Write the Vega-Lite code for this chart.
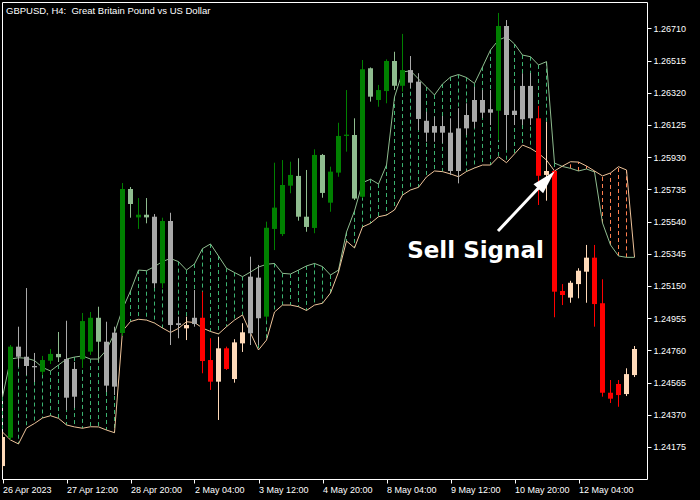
{
  "$schema": "https://vega.github.io/schema/vega-lite/v6.json",
  "width": 645,
  "height": 477,
  "autosize": {"type": "none"},
  "padding": {"left": 2, "top": 2, "right": 53, "bottom": 21},
  "background": "#000000",
  "config": {
    "view": {"stroke": null},
    "axis": {
      "grid": false,
      "title": null,
      "domainColor": "#ffffff",
      "domainWidth": 1,
      "tickColor": "#ffffff",
      "tickWidth": 1,
      "tickSize": 4,
      "labelColor": "#ffffff",
      "labelFont": "Liberation Sans",
      "labelFontSize": 9,
      "zindex": 1
    }
  },
  "title": {
    "text": "GBPUSD, H4:\u00a0 Great Britain Pound vs US Dollar",
    "anchor": "start",
    "frame": "group",
    "orient": "top",
    "offset": -13,
    "dx": 4,
    "color": "#ffffff",
    "font": "Liberation Sans",
    "fontSize": 9.5,
    "fontWeight": "normal"
  },
  "datasets": {
    "candles": [
      {"i": 0, "o": 1.24059, "h": 1.24265, "l": 1.24035, "c": 1.24235, "s": "bear-pullback"},
      {"i": 1, "o": 1.24231, "h": 1.24792, "l": 1.24217, "c": 1.24782, "s": "bull"},
      {"i": 2, "o": 1.24782, "h": 1.24903, "l": 1.24659, "c": 1.24721, "s": "neutral"},
      {"i": 3, "o": 1.24721, "h": 1.25137, "l": 1.24610, "c": 1.24665, "s": "neutral"},
      {"i": 4, "o": 1.24665, "h": 1.24744, "l": 1.24568, "c": 1.24657, "s": "neutral"},
      {"i": 5, "o": 1.24630, "h": 1.24726, "l": 1.24610, "c": 1.24701, "s": "bull"},
      {"i": 6, "o": 1.24697, "h": 1.24768, "l": 1.24677, "c": 1.24738, "s": "bull"},
      {"i": 7, "o": 1.24738, "h": 1.24871, "l": 1.24689, "c": 1.24718, "s": "bull-pullback"},
      {"i": 8, "o": 1.24707, "h": 1.24939, "l": 1.24398, "c": 1.24473, "s": "neutral"},
      {"i": 9, "o": 1.24479, "h": 1.24689, "l": 1.24411, "c": 1.24647, "s": "neutral"},
      {"i": 10, "o": 1.24706, "h": 1.24986, "l": 1.24653, "c": 1.24937, "s": "bull"},
      {"i": 11, "o": 1.24752, "h": 1.24992, "l": 1.24732, "c": 1.24957, "s": "bull"},
      {"i": 12, "o": 1.24957, "h": 1.25024, "l": 1.24691, "c": 1.24812, "s": "bull-pullback"},
      {"i": 13, "o": 1.24812, "h": 1.24933, "l": 1.24507, "c": 1.24546, "s": "neutral"},
      {"i": 14, "o": 1.24540, "h": 1.24903, "l": 1.24489, "c": 1.24867, "s": "neutral"},
      {"i": 15, "o": 1.24865, "h": 1.25773, "l": 1.24847, "c": 1.25737, "s": "bull"},
      {"i": 16, "o": 1.25737, "h": 1.25749, "l": 1.25563, "c": 1.25646, "s": "bull-pullback"},
      {"i": 17, "o": 1.25565, "h": 1.25682, "l": 1.25495, "c": 1.25581, "s": "bull"},
      {"i": 18, "o": 1.25581, "h": 1.25682, "l": 1.25529, "c": 1.25565, "s": "bull-pullback"},
      {"i": 19, "o": 1.25569, "h": 1.25585, "l": 1.25137, "c": 1.25166, "s": "neutral"},
      {"i": 20, "o": 1.25166, "h": 1.25563, "l": 1.25136, "c": 1.25543, "s": "bull"},
      {"i": 21, "o": 1.25543, "h": 1.25593, "l": 1.24792, "c": 1.24913, "s": "neutral"},
      {"i": 22, "o": 1.24913, "h": 1.24964, "l": 1.24833, "c": 1.24924, "s": "neutral"},
      {"i": 23, "o": 1.24893, "h": 1.24964, "l": 1.24822, "c": 1.24913, "s": "bear-pullback"},
      {"i": 24, "o": 1.24919, "h": 1.25125, "l": 1.24903, "c": 1.24957, "s": "neutral"},
      {"i": 25, "o": 1.24957, "h": 1.25115, "l": 1.24621, "c": 1.24695, "s": "bear"},
      {"i": 26, "o": 1.24701, "h": 1.24833, "l": 1.24520, "c": 1.24570, "s": "bear"},
      {"i": 27, "o": 1.24570, "h": 1.24842, "l": 1.24338, "c": 1.24772, "s": "bear-pullback"},
      {"i": 28, "o": 1.24772, "h": 1.24782, "l": 1.24641, "c": 1.24647, "s": "bear"},
      {"i": 29, "o": 1.24586, "h": 1.24827, "l": 1.24564, "c": 1.24808, "s": "bear-pullback"},
      {"i": 30, "o": 1.24802, "h": 1.24924, "l": 1.24750, "c": 1.24869, "s": "bear-pullback"},
      {"i": 31, "o": 1.24863, "h": 1.25327, "l": 1.24792, "c": 1.25206, "s": "neutral"},
      {"i": 32, "o": 1.25200, "h": 1.25277, "l": 1.24792, "c": 1.24954, "s": "neutral"},
      {"i": 33, "o": 1.24964, "h": 1.25539, "l": 1.24943, "c": 1.25502, "s": "bull"},
      {"i": 34, "o": 1.25495, "h": 1.25896, "l": 1.25367, "c": 1.25624, "s": "bull"},
      {"i": 35, "o": 1.25464, "h": 1.25912, "l": 1.25452, "c": 1.25761, "s": "bull"},
      {"i": 36, "o": 1.25757, "h": 1.25902, "l": 1.25711, "c": 1.25822, "s": "bull"},
      {"i": 37, "o": 1.25816, "h": 1.25923, "l": 1.25545, "c": 1.25569, "s": "bull-pullback"},
      {"i": 38, "o": 1.25569, "h": 1.25852, "l": 1.25478, "c": 1.25507, "s": "bull-pullback"},
      {"i": 39, "o": 1.25501, "h": 1.25977, "l": 1.25469, "c": 1.25943, "s": "bull"},
      {"i": 40, "o": 1.25943, "h": 1.25949, "l": 1.25684, "c": 1.25713, "s": "bull-pullback"},
      {"i": 41, "o": 1.25654, "h": 1.25872, "l": 1.25599, "c": 1.25842, "s": "bull"},
      {"i": 42, "o": 1.25836, "h": 1.26138, "l": 1.25811, "c": 1.26058, "s": "bull"},
      {"i": 43, "o": 1.26058, "h": 1.26336, "l": 1.25963, "c": 1.26066, "s": "bull"},
      {"i": 44, "o": 1.26064, "h": 1.26165, "l": 1.25670, "c": 1.25679, "s": "bull-pullback"},
      {"i": 45, "o": 1.25690, "h": 1.26518, "l": 1.25682, "c": 1.26462, "s": "bull"},
      {"i": 46, "o": 1.26468, "h": 1.26473, "l": 1.26266, "c": 1.26296, "s": "bull-pullback"},
      {"i": 47, "o": 1.26276, "h": 1.26367, "l": 1.26235, "c": 1.26336, "s": "bull"},
      {"i": 48, "o": 1.26330, "h": 1.26522, "l": 1.26256, "c": 1.26512, "s": "bull"},
      {"i": 49, "o": 1.26512, "h": 1.26568, "l": 1.26336, "c": 1.26362, "s": "bull-pullback"},
      {"i": 50, "o": 1.26362, "h": 1.26676, "l": 1.26326, "c": 1.26457, "s": "bull"},
      {"i": 51, "o": 1.26457, "h": 1.26542, "l": 1.26347, "c": 1.26381, "s": "neutral"},
      {"i": 52, "o": 1.26387, "h": 1.26438, "l": 1.26094, "c": 1.26161, "s": "neutral"},
      {"i": 53, "o": 1.26150, "h": 1.26205, "l": 1.26023, "c": 1.26078, "s": "neutral"},
      {"i": 54, "o": 1.26078, "h": 1.26175, "l": 1.26023, "c": 1.26118, "s": "neutral"},
      {"i": 55, "o": 1.26118, "h": 1.26179, "l": 1.26014, "c": 1.26078, "s": "neutral"},
      {"i": 56, "o": 1.26078, "h": 1.26165, "l": 1.25822, "c": 1.25846, "s": "neutral"},
      {"i": 57, "o": 1.25846, "h": 1.26226, "l": 1.25771, "c": 1.26104, "s": "neutral"},
      {"i": 58, "o": 1.26104, "h": 1.26256, "l": 1.26064, "c": 1.26185, "s": "neutral"},
      {"i": 59, "o": 1.26144, "h": 1.26356, "l": 1.26106, "c": 1.26276, "s": "neutral"},
      {"i": 60, "o": 1.26276, "h": 1.26336, "l": 1.26167, "c": 1.26199, "s": "neutral"},
      {"i": 61, "o": 1.26199, "h": 1.26336, "l": 1.26124, "c": 1.26220, "s": "neutral"},
      {"i": 62, "o": 1.26211, "h": 1.26803, "l": 1.26034, "c": 1.26724, "s": "bull"},
      {"i": 63, "o": 1.26724, "h": 1.26760, "l": 1.25973, "c": 1.26185, "s": "neutral"},
      {"i": 64, "o": 1.26185, "h": 1.26336, "l": 1.26124, "c": 1.26211, "s": "neutral"},
      {"i": 65, "o": 1.26159, "h": 1.26438, "l": 1.26124, "c": 1.26361, "s": "neutral"},
      {"i": 66, "o": 1.26361, "h": 1.26439, "l": 1.26124, "c": 1.26165, "s": "neutral"},
      {"i": 67, "o": 1.26165, "h": 1.26240, "l": 1.25640, "c": 1.25817, "s": "bear"},
      {"i": 68, "o": 1.25822, "h": 1.26144, "l": 1.25666, "c": 1.25846, "s": "bear-pullback"},
      {"i": 69, "o": 1.25846, "h": 1.25852, "l": 1.24960, "c": 1.25115, "s": "bear"},
      {"i": 70, "o": 1.25119, "h": 1.25161, "l": 1.25034, "c": 1.25095, "s": "bear"},
      {"i": 71, "o": 1.25079, "h": 1.25181, "l": 1.25048, "c": 1.25169, "s": "bear-pullback"},
      {"i": 72, "o": 1.25161, "h": 1.25257, "l": 1.25075, "c": 1.25242, "s": "bear-pullback"},
      {"i": 73, "o": 1.25236, "h": 1.25398, "l": 1.25048, "c": 1.25321, "s": "bear-pullback"},
      {"i": 74, "o": 1.25321, "h": 1.25398, "l": 1.24903, "c": 1.25040, "s": "bear"},
      {"i": 75, "o": 1.25045, "h": 1.25190, "l": 1.24479, "c": 1.24503, "s": "bear"},
      {"i": 76, "o": 1.24503, "h": 1.24580, "l": 1.24441, "c": 1.24467, "s": "bear"},
      {"i": 77, "o": 1.24556, "h": 1.24580, "l": 1.24418, "c": 1.24489, "s": "bear"},
      {"i": 78, "o": 1.24495, "h": 1.24651, "l": 1.24483, "c": 1.24616, "s": "bear-pullback"},
      {"i": 79, "o": 1.24610, "h": 1.24786, "l": 1.24598, "c": 1.24768, "s": "bear-pullback"}
    ],
    "bands": [
      {"i": 0, "fast": 1.24477, "slow": 1.24265},
      {"i": 1, "fast": 1.24707, "slow": 1.24217},
      {"i": 2, "fast": 1.24715, "slow": 1.24193},
      {"i": 3, "fast": 1.24712, "slow": 1.24289},
      {"i": 4, "fast": 1.24698, "slow": 1.24317},
      {"i": 5, "fast": 1.24656, "slow": 1.24350},
      {"i": 6, "fast": 1.24635, "slow": 1.24364},
      {"i": 7, "fast": 1.24671, "slow": 1.24348},
      {"i": 8, "fast": 1.24707, "slow": 1.24308},
      {"i": 9, "fast": 1.24719, "slow": 1.24296},
      {"i": 10, "fast": 1.24726, "slow": 1.24288},
      {"i": 11, "fast": 1.24707, "slow": 1.24297},
      {"i": 12, "fast": 1.24707, "slow": 1.24296},
      {"i": 13, "fast": 1.24762, "slow": 1.24277},
      {"i": 14, "fast": 1.24865, "slow": 1.24261},
      {"i": 15, "fast": 1.25010, "slow": 1.24877},
      {"i": 16, "fast": 1.25119, "slow": 1.24934},
      {"i": 17, "fast": 1.25246, "slow": 1.24948},
      {"i": 18, "fast": 1.25242, "slow": 1.24943},
      {"i": 19, "fast": 1.25267, "slow": 1.24925},
      {"i": 20, "fast": 1.25298, "slow": 1.24895},
      {"i": 21, "fast": 1.25316, "slow": 1.24868},
      {"i": 22, "fast": 1.25297, "slow": 1.24893},
      {"i": 23, "fast": 1.25246, "slow": 1.24933},
      {"i": 24, "fast": 1.25283, "slow": 1.24928},
      {"i": 25, "fast": 1.25376, "slow": 1.24895},
      {"i": 26, "fast": 1.25404, "slow": 1.24874},
      {"i": 27, "fast": 1.25331, "slow": 1.24859},
      {"i": 28, "fast": 1.25257, "slow": 1.24903},
      {"i": 29, "fast": 1.25231, "slow": 1.24943},
      {"i": 30, "fast": 1.25206, "slow": 1.24974},
      {"i": 31, "fast": 1.25234, "slow": 1.24865},
      {"i": 32, "fast": 1.25264, "slow": 1.24762},
      {"i": 33, "fast": 1.25281, "slow": 1.24822},
      {"i": 34, "fast": 1.25286, "slow": 1.24992},
      {"i": 35, "fast": 1.25226, "slow": 1.25034},
      {"i": 36, "fast": 1.25222, "slow": 1.25034},
      {"i": 37, "fast": 1.25246, "slow": 1.25024},
      {"i": 38, "fast": 1.25271, "slow": 1.25001},
      {"i": 39, "fast": 1.25286, "slow": 1.25034},
      {"i": 40, "fast": 1.25267, "slow": 1.25045},
      {"i": 41, "fast": 1.25216, "slow": 1.25107},
      {"i": 42, "fast": 1.25246, "slow": 1.25234},
      {"i": 43, "fast": 1.25476, "slow": 1.25422},
      {"i": 44, "fast": 1.25604, "slow": 1.25380},
      {"i": 45, "fast": 1.25775, "slow": 1.25507},
      {"i": 46, "fast": 1.25796, "slow": 1.25529},
      {"i": 47, "fast": 1.25767, "slow": 1.25569},
      {"i": 48, "fast": 1.25882, "slow": 1.25579},
      {"i": 49, "fast": 1.26294, "slow": 1.25610},
      {"i": 50, "fast": 1.26445, "slow": 1.25700},
      {"i": 51, "fast": 1.26453, "slow": 1.25731},
      {"i": 52, "fast": 1.26403, "slow": 1.25747},
      {"i": 53, "fast": 1.26355, "slow": 1.25810},
      {"i": 54, "fast": 1.26306, "slow": 1.25846},
      {"i": 55, "fast": 1.26373, "slow": 1.25842},
      {"i": 56, "fast": 1.26415, "slow": 1.25828},
      {"i": 57, "fast": 1.26430, "slow": 1.25811},
      {"i": 58, "fast": 1.26412, "slow": 1.25843},
      {"i": 59, "fast": 1.26376, "slow": 1.25864},
      {"i": 60, "fast": 1.26476, "slow": 1.25882},
      {"i": 61, "fast": 1.26579, "slow": 1.25882},
      {"i": 62, "fast": 1.26639, "slow": 1.25932},
      {"i": 63, "fast": 1.26659, "slow": 1.25896},
      {"i": 64, "fast": 1.26615, "slow": 1.25949},
      {"i": 65, "fast": 1.26548, "slow": 1.26003},
      {"i": 66, "fast": 1.26538, "slow": 1.25983},
      {"i": 67, "fast": 1.26488, "slow": 1.25953},
      {"i": 68, "fast": 1.26508, "slow": 1.25912},
      {"i": 69, "fast": 1.25894, "slow": 1.25846},
      {"i": 70, "fast": 1.25873, "slow": 1.25876},
      {"i": 71, "fast": 1.25862, "slow": 1.25902},
      {"i": 72, "fast": 1.25846, "slow": 1.25900},
      {"i": 73, "fast": 1.25858, "slow": 1.25876},
      {"i": 74, "fast": 1.25840, "slow": 1.25846},
      {"i": 75, "fast": 1.25531, "slow": 1.25816},
      {"i": 76, "fast": 1.25398, "slow": 1.25834},
      {"i": 77, "fast": 1.25331, "slow": 1.25872},
      {"i": 78, "fast": 1.25323, "slow": 1.25852},
      {"i": 79, "fast": 1.25323, "slow": 1.25325}
    ],
    "signal": [
      {"i": 69, "price": 1.25846, "label": "Sell Signal"}
    ]
  },
  "layer": [
    {
      "data": {"name": "bands"},
      "mark": {"type": "rule", "strokeWidth": 1, "strokeDash": [4, 3], "clip": true},
      "encoding": {
        "x": {
          "field": "i",
          "type": "quantitative",
          "scale": {"domain": [-0.0625, 80.5625], "nice": false, "zero": false},
          "axis": {
            "orient": "bottom",
            "values": [0, 8, 16, 24, 32, 40, 48, 56, 64, 72],
            "labelExpr": "['26 Apr 2023','27 Apr 12:00','28 Apr 20:00','2 May 04:00','3 May 12:00','4 May 20:00','8 May 04:00','9 May 12:00','10 May 20:00','12 May 04:00'][round(datum.value / 8)]",
            "labelAlign": "left",
            "labelBaseline": "top",
            "labelPadding": 2,
            "labelFlush": false,
            "labelOverlap": false
          }
        },
        "y": {
          "field": "fast",
          "type": "quantitative",
          "scale": {"domain": [1.239806, 1.268693], "nice": false, "zero": false},
          "axis": {
            "orient": "right",
            "values": [1.24175, 1.2437, 1.24565, 1.2476, 1.24955, 1.2515, 1.25345, 1.2554, 1.25735, 1.2593, 1.26125, 1.2632, 1.26515, 1.2671],
            "format": ".5f",
            "labelPadding": 2,
            "labelFlush": false,
            "labelOverlap": false
          }
        },
        "y2": {"field": "slow"},
        "color": {
          "condition": {"test": "datum.fast >= datum.slow", "value": "#3cb371"},
          "value": "#ff7f50"
        }
      }
    },
    {
      "data": {"name": "bands"},
      "mark": {"type": "line", "strokeWidth": 1, "color": "#8fbc8f", "clip": true},
      "encoding": {
        "x": {"field": "i", "type": "quantitative", "axis": {"orient": "top", "labels": false, "ticks": false, "domain": true}},
        "y": {"field": "fast", "type": "quantitative", "axis": {"orient": "left", "labels": false, "ticks": false, "domain": true}}
      }
    },
    {
      "data": {"name": "bands"},
      "mark": {"type": "line", "strokeWidth": 1, "color": "#eec39a", "clip": true},
      "encoding": {
        "x": {"field": "i", "type": "quantitative", "axis": null},
        "y": {"field": "slow", "type": "quantitative", "axis": null}
      }
    },
    {
      "data": {"name": "candles"},
      "mark": {"type": "rule", "strokeWidth": 1, "clip": true},
      "encoding": {
        "x": {"field": "i", "type": "quantitative", "axis": null},
        "y": {"field": "l", "type": "quantitative", "axis": null},
        "y2": {"field": "h"},
        "color": {
          "field": "s",
          "type": "nominal",
          "scale": {
            "domain": ["bull", "bull-pullback", "neutral", "bear", "bear-pullback"],
            "range": ["#008000", "#8fbc8f", "#a9a9a9", "#ff0000", "#ffdab9"]
          },
          "legend": null
        }
      }
    },
    {
      "data": {"name": "candles"},
      "mark": {"type": "rule", "strokeWidth": 5, "clip": true},
      "encoding": {
        "x": {"field": "i", "type": "quantitative", "axis": null},
        "y": {"field": "o", "type": "quantitative", "axis": null},
        "y2": {"field": "c"},
        "color": {"field": "s", "type": "nominal", "legend": null}
      }
    },
    {
      "data": {"name": "signal"},
      "mark": {
        "type": "rule",
        "color": "#ffffff",
        "strokeWidth": 3,
        "xOffset": -8,
        "yOffset": 8.5,
        "x2Offset": -56.5,
        "y2Offset": 60
      },
      "encoding": {
        "x": {"field": "i", "type": "quantitative", "axis": null},
        "y": {"field": "price", "type": "quantitative", "axis": null},
        "x2": {"field": "i"},
        "y2": {"field": "price"}
      }
    },
    {
      "data": {"name": "signal"},
      "mark": {
        "type": "point",
        "shape": "M0,-1L0.55,1L-0.55,1Z",
        "size": 576,
        "angle": 43,
        "filled": true,
        "color": "#ffffff",
        "opacity": 1,
        "strokeWidth": 0,
        "xOffset": -8,
        "yOffset": 9
      },
      "encoding": {
        "x": {"field": "i", "type": "quantitative", "axis": null},
        "y": {"field": "price", "type": "quantitative", "axis": null}
      }
    },
    {
      "data": {"name": "signal"},
      "mark": {
        "type": "text",
        "color": "#ffffff",
        "font": "DejaVu Sans",
        "fontWeight": "bold",
        "fontSize": 23,
        "align": "center",
        "baseline": "alphabetic",
        "dx": -79,
        "dy": 87.5
      },
      "encoding": {
        "x": {"field": "i", "type": "quantitative", "axis": null},
        "y": {"field": "price", "type": "quantitative", "axis": null},
        "text": {"field": "label"}
      }
    }
  ]
}
